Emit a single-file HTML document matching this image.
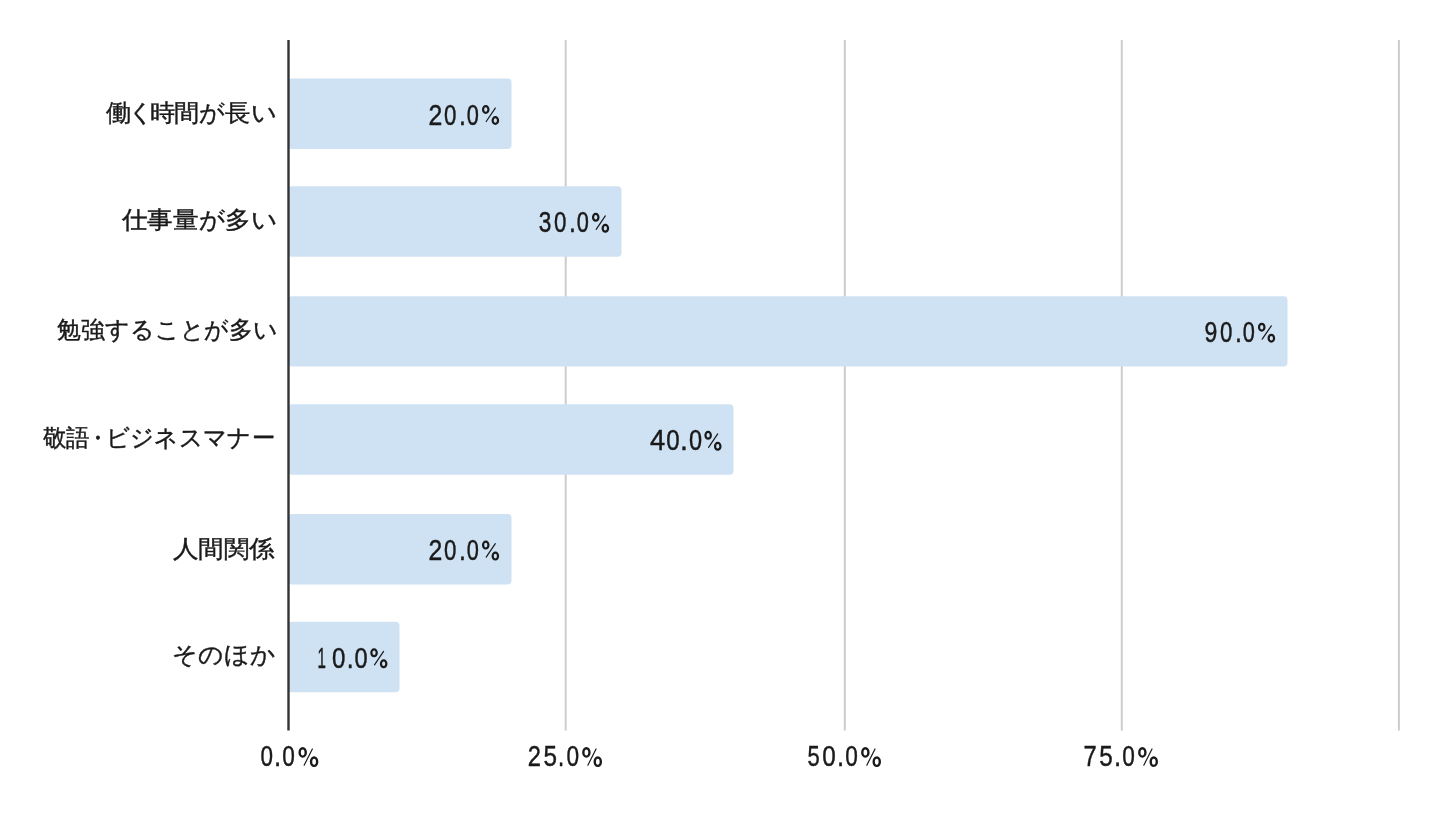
<!DOCTYPE html>
<html><head><meta charset="utf-8">
<style>
html,body{margin:0;padding:0;background:#fff;width:1440px;height:816px;overflow:hidden}
svg{display:block;filter:blur(0.6px)}
text{font-family:"Liberation Sans",sans-serif;fill:#1a1a1a}
.l{font-size:24px;stroke:#1a1a1a;stroke-width:0.4}
.v{font-size:29px;stroke:#1a1a1a;stroke-width:0.45}
</style></head><body>
<svg width="1440" height="816" viewBox="0 0 1440 816">
<g stroke="#cccccc" stroke-width="2">
<line x1="565.7" y1="40" x2="565.7" y2="730.5"/>
<line x1="844.8" y1="40" x2="844.8" y2="730.5"/>
<line x1="1121.8" y1="40" x2="1121.8" y2="730.5"/>
<line x1="1398.9" y1="40" x2="1398.9" y2="730.5"/>
</g>
<g fill="#cfe2f3">
<rect x="288" y="78.5" width="223.5" height="70.4" rx="4"/>
<rect x="288" y="186.3" width="333.5" height="70.4" rx="4"/>
<rect x="288" y="296.2" width="999.5" height="70.4" rx="4"/>
<rect x="288" y="404.3" width="445.5" height="70.4" rx="4"/>
<rect x="288" y="514.1" width="223.5" height="70.4" rx="4"/>
<rect x="288" y="621.8" width="111.5" height="70.4" rx="4"/>
</g>
<line x1="288.5" y1="40" x2="288.5" y2="730.5" stroke="#333333" stroke-width="2.4"/>
<text class="l" x="105.6" y="121.0" textLength="171.4" lengthAdjust="spacingAndGlyphs">働<tspan dx="-3">く</tspan><tspan dx="-4">時</tspan><tspan dx="-1">間が長い</tspan></text>
<text class="l" x="121.8" y="228.45" textLength="155.7" lengthAdjust="spacingAndGlyphs">仕事量が多い</text>
<text class="l" x="57.4" y="337.9" textLength="220.6" lengthAdjust="spacingAndGlyphs">勉強することが多い</text>
<text class="l" x="42.5" y="446.0" textLength="232.5" lengthAdjust="spacingAndGlyphs">敬語<tspan dx="-3">・</tspan><tspan dx="-4">ビジネスマナー</tspan></text>
<text class="l" x="172.6" y="556.5" textLength="102.0" lengthAdjust="spacingAndGlyphs">人間関係</text>
<text class="l" x="172.4" y="662.95" textLength="103.2" lengthAdjust="spacingAndGlyphs">そのほか</text>
<text class="v" x="428.6" y="124.59" textLength="13.8" lengthAdjust="spacingAndGlyphs">2</text>
<text class="v" x="444.1" y="124.59" textLength="12.4" lengthAdjust="spacingAndGlyphs">0</text>
<text class="v" x="458.9" y="124.59" textLength="6.9" lengthAdjust="spacingAndGlyphs">.</text>
<text class="v" x="466.7" y="124.59" textLength="12.1" lengthAdjust="spacingAndGlyphs">0</text>
<text class="v" x="538.8" y="232.49" textLength="12.6" lengthAdjust="spacingAndGlyphs">3</text>
<text class="v" x="554.1" y="232.49" textLength="12.4" lengthAdjust="spacingAndGlyphs">0</text>
<text class="v" x="568.9" y="232.49" textLength="6.9" lengthAdjust="spacingAndGlyphs">.</text>
<text class="v" x="576.7" y="232.49" textLength="12.1" lengthAdjust="spacingAndGlyphs">0</text>
<text class="v" x="1204.5" y="342.03" textLength="12.85" lengthAdjust="spacingAndGlyphs">9</text>
<text class="v" x="1220.1" y="342.03" textLength="12.4" lengthAdjust="spacingAndGlyphs">0</text>
<text class="v" x="1234.9" y="342.03" textLength="6.9" lengthAdjust="spacingAndGlyphs">.</text>
<text class="v" x="1242.7" y="342.03" textLength="12.1" lengthAdjust="spacingAndGlyphs">0</text>
<text class="v" x="649.9" y="450.18" textLength="15.2" lengthAdjust="spacingAndGlyphs">4</text>
<text class="v" x="666.3" y="450.18" textLength="13.4" lengthAdjust="spacingAndGlyphs">0</text>
<text class="v" x="680.1" y="450.18" textLength="7.9" lengthAdjust="spacingAndGlyphs">.</text>
<text class="v" x="688.9" y="450.18" textLength="13.1" lengthAdjust="spacingAndGlyphs">0</text>
<text class="v" x="428.6" y="560.39" textLength="13.8" lengthAdjust="spacingAndGlyphs">2</text>
<text class="v" x="444.1" y="560.39" textLength="12.4" lengthAdjust="spacingAndGlyphs">0</text>
<text class="v" x="458.9" y="560.39" textLength="6.9" lengthAdjust="spacingAndGlyphs">.</text>
<text class="v" x="466.7" y="560.39" textLength="12.1" lengthAdjust="spacingAndGlyphs">0</text>
<text class="v" x="317.4" y="667.84" textLength="8.4" lengthAdjust="spacingAndGlyphs">1</text>
<text class="v" x="332.0" y="667.84" textLength="13.4" lengthAdjust="spacingAndGlyphs">0</text>
<text class="v" x="346.8" y="667.84" textLength="6.9" lengthAdjust="spacingAndGlyphs">.</text>
<text class="v" x="354.6" y="667.84" textLength="13.1" lengthAdjust="spacingAndGlyphs">0</text>
<text class="v" x="260.4" y="766.2" textLength="12.5" lengthAdjust="spacingAndGlyphs">0</text>
<text class="v" x="274.0" y="766.2" textLength="7.15" lengthAdjust="spacingAndGlyphs">.</text>
<text class="v" x="282.3" y="766.2" textLength="12.6" lengthAdjust="spacingAndGlyphs">0</text>
<text class="v" x="527.7" y="766.2" textLength="13.2" lengthAdjust="spacingAndGlyphs">2</text>
<text class="v" x="543.5" y="766.2" textLength="13.5" lengthAdjust="spacingAndGlyphs">5</text>
<text class="v" x="558.1" y="766.2" textLength="6.15" lengthAdjust="spacingAndGlyphs">.</text>
<text class="v" x="566.4" y="766.2" textLength="12.6" lengthAdjust="spacingAndGlyphs">0</text>
<text class="v" x="807.55" y="766.2" textLength="12.2" lengthAdjust="spacingAndGlyphs">5</text>
<text class="v" x="822.35" y="766.2" textLength="13.5" lengthAdjust="spacingAndGlyphs">0</text>
<text class="v" x="836.95" y="766.2" textLength="7.15" lengthAdjust="spacingAndGlyphs">.</text>
<text class="v" x="845.25" y="766.2" textLength="12.6" lengthAdjust="spacingAndGlyphs">0</text>
<text class="v" x="1083.55" y="766.2" textLength="13.2" lengthAdjust="spacingAndGlyphs">7</text>
<text class="v" x="1099.35" y="766.2" textLength="13.5" lengthAdjust="spacingAndGlyphs">5</text>
<text class="v" x="1113.95" y="766.2" textLength="7.15" lengthAdjust="spacingAndGlyphs">.</text>
<text class="v" x="1122.25" y="766.2" textLength="12.6" lengthAdjust="spacingAndGlyphs">0</text>
<g fill="none" stroke="#1a1a1a">
<ellipse cx="485.75" cy="109.50" rx="2.7" ry="3.4" stroke-width="2.2"/>
<ellipse cx="495.35" cy="120.50" rx="2.7" ry="3.4" stroke-width="2.2"/>
<line x1="495.30" y1="108.10" x2="486.20" y2="121.50" stroke-width="1.2" stroke-linecap="round"/>
<ellipse cx="595.75" cy="217.30" rx="2.7" ry="3.4" stroke-width="2.2"/>
<ellipse cx="605.35" cy="228.30" rx="2.7" ry="3.4" stroke-width="2.2"/>
<line x1="605.30" y1="215.90" x2="596.20" y2="229.30" stroke-width="1.2" stroke-linecap="round"/>
<ellipse cx="1261.75" cy="327.20" rx="2.7" ry="3.4" stroke-width="2.2"/>
<ellipse cx="1271.35" cy="338.20" rx="2.7" ry="3.4" stroke-width="2.2"/>
<line x1="1271.30" y1="325.80" x2="1262.20" y2="339.20" stroke-width="1.2" stroke-linecap="round"/>
<ellipse cx="708.15" cy="435.30" rx="2.7" ry="3.4" stroke-width="2.2"/>
<ellipse cx="717.75" cy="446.30" rx="2.7" ry="3.4" stroke-width="2.2"/>
<line x1="717.70" y1="433.90" x2="708.60" y2="447.30" stroke-width="1.2" stroke-linecap="round"/>
<ellipse cx="485.75" cy="545.10" rx="2.7" ry="3.4" stroke-width="2.2"/>
<ellipse cx="495.35" cy="556.10" rx="2.7" ry="3.4" stroke-width="2.2"/>
<line x1="495.30" y1="543.70" x2="486.20" y2="557.10" stroke-width="1.2" stroke-linecap="round"/>
<ellipse cx="374.05" cy="652.80" rx="2.7" ry="3.4" stroke-width="2.2"/>
<ellipse cx="383.65" cy="663.80" rx="2.7" ry="3.4" stroke-width="2.2"/>
<line x1="383.60" y1="651.40" x2="374.50" y2="664.80" stroke-width="1.2" stroke-linecap="round"/>
<ellipse cx="302.70" cy="752.40" rx="3.05" ry="4.2" stroke-width="2.4"/>
<ellipse cx="314.10" cy="761.70" rx="3.05" ry="4.2" stroke-width="2.4"/>
<line x1="312.35" y1="749.00" x2="304.15" y2="765.20" stroke-width="1.2" stroke-linecap="round"/>
<ellipse cx="586.40" cy="752.40" rx="3.05" ry="4.2" stroke-width="2.4"/>
<ellipse cx="597.80" cy="761.70" rx="3.05" ry="4.2" stroke-width="2.4"/>
<line x1="596.05" y1="749.00" x2="587.85" y2="765.20" stroke-width="1.2" stroke-linecap="round"/>
<ellipse cx="865.35" cy="752.40" rx="3.05" ry="4.2" stroke-width="2.4"/>
<ellipse cx="876.75" cy="761.70" rx="3.05" ry="4.2" stroke-width="2.4"/>
<line x1="875.00" y1="749.00" x2="866.80" y2="765.20" stroke-width="1.2" stroke-linecap="round"/>
<ellipse cx="1142.35" cy="752.40" rx="3.05" ry="4.2" stroke-width="2.4"/>
<ellipse cx="1153.75" cy="761.70" rx="3.05" ry="4.2" stroke-width="2.4"/>
<line x1="1152.00" y1="749.00" x2="1143.80" y2="765.20" stroke-width="1.2" stroke-linecap="round"/>
</g>
</svg>
</body></html>
